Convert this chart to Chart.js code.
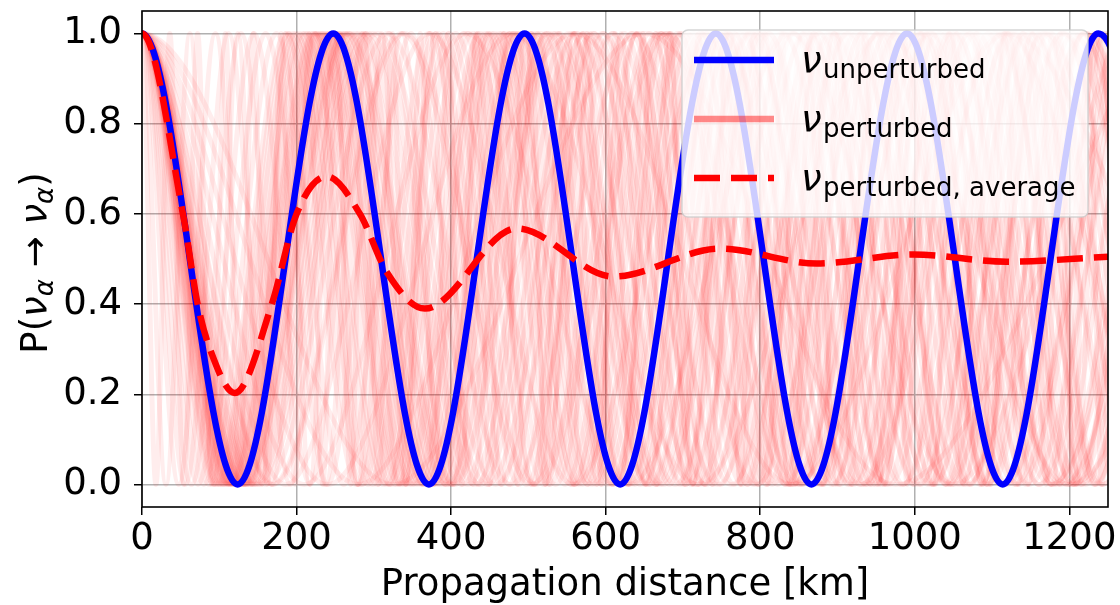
<!DOCTYPE html>
<html><head><meta charset="utf-8">
<script src="https://cdn.jsdelivr.net/npm/chart.js@4.4.1/dist/chart.umd.min.js"></script>
<style>html,body{margin:0;padding:0;background:#fff;}canvas{display:block;}</style>
</head><body>
<canvas id="c" width="1120" height="605"></canvas>
<script>
// ---- data ----
const xTicks = [0, 200, 400, 600, 800, 1000, 1200];
const yTicks = [0.0, 0.2, 0.4, 0.6, 0.8, 1.0];
// unperturbed oscillation: extrema (km, probability)
const blueX = [-123.75, 0, 123.75, 247.5, 371.25, 495, 618.75, 742.5, 866.25, 990, 1113.75, 1237.5, 1361.25];
const blueY = [0, 1, 0, 1, 0, 1, 0, 1, 0, 1, 0, 1, 0];
// average of perturbed curves
const avgX = [-120, 0, 53, 72, 88, 120, 168, 200, 239, 282, 317, 366, 485, 610, 748, 873, 998, 1119, 1250];
const avgY = [0.2, 1.0, 0.6, 0.4, 0.3, 0.203, 0.4, 0.6, 0.683, 0.6, 0.47, 0.39, 0.568, 0.461, 0.523, 0.49, 0.51, 0.494, 0.505];
// oscillation lengths (km) of the individual perturbed curves (estimated)
const perturbedPeriods = [
  247, 231, 262, 214, 281, 238, 255, 199, 305, 224,
  270, 186, 336, 243, 251, 208, 292, 228, 266, 174,
  372, 235, 258, 195, 318, 219, 276, 160, 420, 241,
  249, 203, 298, 226, 263, 145, 480, 233, 287, 128,
  560, 211, 112, 95, 62, 36, 650,
  244, 252, 190, 340, 222, 268
];
const legendLabels = ['unperturbed', 'perturbed', 'perturbed, average'];

// ---- build datasets ----
function extremaPoints(p) {
  const pts = [];
  for (let k = -1; k * p / 2 <= 1250 + p / 2; k++) {
    pts.push({x: k * p / 2, y: (k % 2 === 0) ? 1 : 0});
  }
  return pts;
}
const FONT = "'DejaVu Sans', 'Liberation Sans', sans-serif";
const datasets = [];
datasets.push({
  data: avgX.map((x, i) => ({x, y: avgY[i]})),
  borderColor: '#ff0000', borderWidth: 6.5, borderDash: [26, 11], borderCapStyle: 'butt',
  pointRadius: 0, cubicInterpolationMode: 'monotone', clip: 0
});
datasets.push({
  data: blueX.map((x, i) => ({x, y: blueY[i]})),
  borderColor: '#0000ff', borderWidth: 6.5,
  pointRadius: 0, cubicInterpolationMode: 'monotone', clip: 0
});
perturbedPeriods.forEach(p => datasets.push({
  data: extremaPoints(p),
  borderColor: 'rgba(255,0,0,0.07)', borderWidth: 5,
  pointRadius: 0, cubicInterpolationMode: 'monotone', clip: 0
}));

const overlay = {
  id: 'overlay',
  afterDraw(chart) {
    const ctx = chart.ctx, a = chart.chartArea;
    ctx.save();
    // spines
    ctx.strokeStyle = '#000'; ctx.lineWidth = 1.6;
    ctx.strokeRect(a.left, a.top, a.right - a.left, a.bottom - a.top);
    // x title
    ctx.fillStyle = '#000';
    ctx.font = "37px " + FONT;
    ctx.textAlign = 'center'; ctx.textBaseline = 'alphabetic';
    ctx.fillText('Propagation distance [km]', (a.left + a.right) / 2, 595);
    // y title with subscripts
    ctx.save();
    ctx.translate(47, (a.top + a.bottom) / 2 + 4);
    ctx.rotate(-Math.PI / 2);
    const parts = [
      ['P(', "37px " + FONT, 0],
      ['ν', "italic 37px " + FONT, 0],
      ['α', "italic 26px " + FONT, 6],
      [' → ', "37px " + FONT, 0],
      ['ν', "italic 37px " + FONT, 0],
      ['α', "italic 26px " + FONT, 6],
      [')', "37px " + FONT, 0]
    ];
    let total = 0;
    parts.forEach(p => { ctx.font = p[1]; p.push(ctx.measureText(p[0]).width); total += p[3]; });
    let x = -total / 2;
    ctx.textAlign = 'left';
    parts.forEach(p => { ctx.font = p[1]; ctx.fillText(p[0], x, p[2]); x += p[3]; });
    ctx.restore();
    // legend box
    const bx = 682, by = 30, bw = 406, bh = 187, r = 6;
    ctx.beginPath();
    ctx.moveTo(bx + r, by);
    ctx.arcTo(bx + bw, by, bx + bw, by + bh, r);
    ctx.arcTo(bx + bw, by + bh, bx, by + bh, r);
    ctx.arcTo(bx, by + bh, bx, by, r);
    ctx.arcTo(bx, by, bx + bw, by, r);
    ctx.closePath();
    ctx.fillStyle = 'rgba(255,255,255,0.8)';
    ctx.fill();
    ctx.strokeStyle = 'rgba(204,204,204,0.8)'; ctx.lineWidth = 1.5;
    ctx.stroke();
    const rows = [60, 119, 178];
    const styles = [
      {c: '#0000ff', w: 6.5, d: []},
      {c: 'rgba(255,0,0,0.45)', w: 6.5, d: []},
      {c: '#ff0000', w: 6.5, d: [26, 11]}
    ];
    ctx.textAlign = 'left'; ctx.textBaseline = 'alphabetic';
    rows.forEach((y, i) => {
      ctx.beginPath();
      ctx.strokeStyle = styles[i].c; ctx.lineWidth = styles[i].w;
      ctx.setLineDash(styles[i].d); ctx.lineCap = 'butt';
      ctx.moveTo(694, y); ctx.lineTo(774, y); ctx.stroke();
      ctx.setLineDash([]);
      ctx.fillStyle = '#000';
      ctx.font = "italic 37px " + FONT;
      ctx.fillText('ν', 801, y + 13);
      ctx.font = "26px " + FONT;
      ctx.fillText(legendLabels[i], 823, y + 18);
    });
    ctx.restore();
  }
};

new Chart(document.getElementById('c'), {
  type: 'line',
  data: {datasets},
  options: {
    responsive: false, animation: false, devicePixelRatio: 1,
    layout: {padding: {top: 11, right: 12, left: 0, bottom: 0}},
    plugins: {legend: {display: false}, tooltip: {enabled: false}},
    scales: {
      x: {
        type: 'linear', min: 0, max: 1250,
        afterBuildTicks: s => { s.ticks = xTicks.map(v => ({value: v})); },
        afterFit: s => { s.height = 98; s.paddingLeft = 0; s.paddingRight = 0; },
        grid: {color: '#b0b0b0', lineWidth: 1.5, tickColor: '#000', tickLength: 8, tickWidth: 1.5},
        border: {display: false},
        ticks: {font: {family: FONT, size: 37}, color: '#000', padding: 2, maxRotation: 0,
                callback: v => String(v)}
      },
      y: {
        type: 'linear', min: -0.05, max: 1.05,
        afterBuildTicks: s => { s.ticks = yTicks.map(v => ({value: v})); },
        afterFit: s => { s.width = 142; s.paddingTop = 0; s.paddingBottom = 0; },
        grid: {color: '#b0b0b0', lineWidth: 1.5, tickColor: '#000', tickLength: 8, tickWidth: 1.5},
        border: {display: false},
        ticks: {font: {family: FONT, size: 37}, color: '#000', padding: 12,
                callback: v => Number(v).toFixed(1)}
      }
    }
  },
  plugins: [overlay]
});
</script>
</body></html>
